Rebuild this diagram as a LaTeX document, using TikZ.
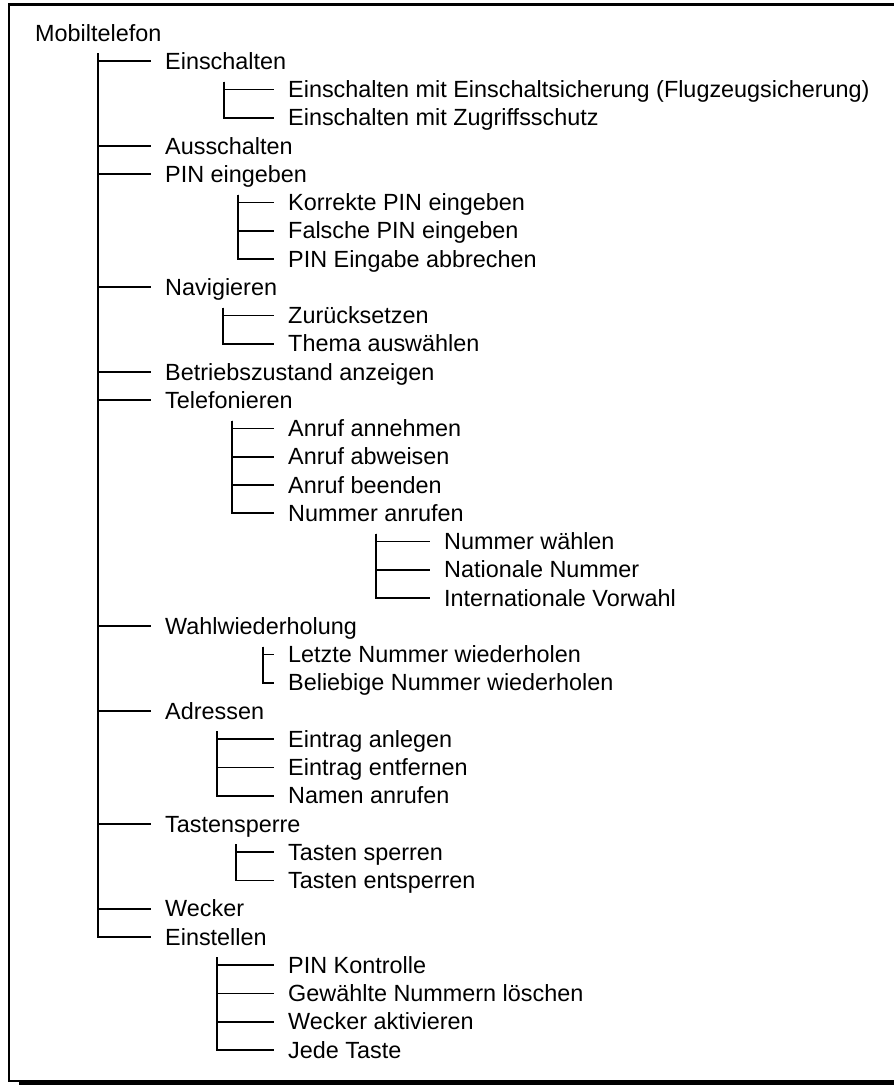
\documentclass[tikz,border=0pt]{standalone}
\usepackage{fontspec}
\setmainfont{Liberation Sans}
\begin{document}
\begin{tikzpicture}[x=1pt,y=-1pt,
  item/.style={anchor=west, inner sep=0pt, text height=17pt, text depth=1pt,
    font=\fontsize{23.4}{28}\selectfont},
  branch/.style={line width=1.8pt, shorten >=14.5pt}]
  % Fix the page size
  \useasboundingbox (0,0) rectangle (894,1085);

  % Draw the frame and its shadow
  \fill (19,1082) rectangle (894,1085);
  \draw[line width=2.5pt] (894,4.7) -- (9,4.7) -- (9,1081) -- (894,1081);

  % Root
  \node[item] (mobil) at (35,33) {Mobiltelefon};

  % First level
  \node[item] (ein)   at (165,61.25)  {Einschalten};
  \node[item] (aus)   at (165,146)    {Ausschalten};
  \node[item] (pin)   at (165,174.25) {PIN eingeben};
  \node[item] (nav)   at (165,287.25) {Navigieren};
  \node[item] (betr)  at (165,372)    {Betriebszustand anzeigen};
  \node[item] (tel)   at (165,400.25) {Telefonieren};
  \node[item] (wahl)  at (165,626.25) {Wahlwiederholung};
  \node[item] (adr)   at (165,711)    {Adressen};
  \node[item] (tast)  at (165,824)    {Tastensperre};
  \node[item] (weck)  at (165,908.75) {Wecker};
  \node[item] (einst) at (165,937)    {Einstellen};

  % Second level
  \node[item] (ein1) at (288,89.5)   {Einschalten mit Einschaltsicherung (Flugzeugsicherung)};
  \node[item] (ein2) at (288,117.75) {Einschalten mit Zugriffsschutz};

  \node[item] (pin1) at (288,202.5)  {Korrekte PIN eingeben};
  \node[item] (pin2) at (288,230.75) {Falsche PIN eingeben};
  \node[item] (pin3) at (288,259)    {PIN Eingabe abbrechen};

  \node[item] (nav1) at (288,315.5)  {Zurücksetzen};
  \node[item] (nav2) at (288,343.75) {Thema auswählen};

  \node[item] (tel1) at (288,428.5)  {Anruf annehmen};
  \node[item] (tel2) at (288,456.75) {Anruf abweisen};
  \node[item] (tel3) at (288,485)    {Anruf beenden};
  \node[item] (tel4) at (288,513.25) {Nummer anrufen};

  \node[item] (wahl1) at (288,654.5)  {Letzte Nummer wiederholen};
  \node[item] (wahl2) at (288,682.75) {Beliebige Nummer wiederholen};

  \node[item] (adr1) at (288,739.25) {Eintrag anlegen};
  \node[item] (adr2) at (288,767.5)  {Eintrag entfernen};
  \node[item] (adr3) at (288,795.75) {Namen anrufen};

  \node[item] (tast1) at (288,852.25) {Tasten sperren};
  \node[item] (tast2) at (288,880.5)  {Tasten entsperren};

  \node[item] (einst1) at (288,965.25) {PIN Kontrolle};
  \node[item] (einst2) at (288,993.5)  {Gewählte Nummern löschen};
  \node[item] (einst3) at (288,1021.75) {Wecker aktivieren};
  \node[item] (einst4) at (288,1050)   {Jede Taste};

  % Third level
  \node[item] (num1) at (444,541.5)  {Nummer wählen};
  \node[item] (num2) at (444,569.75) {Nationale Nummer};
  \node[item] (num3) at (444,598)    {Internationale Vorwahl};

  % Tops of the vertical bars
  \coordinate (b0) at (98,53);
  \coordinate (b1) at (224,81.5);
  \coordinate (b2) at (238,194.5);
  \coordinate (b3) at (223,307.5);
  \coordinate (b4) at (232,420.5);
  \coordinate (b5) at (376,533.5);
  \coordinate (b6) at (263,646.5);
  \coordinate (b7) at (217,731.25);
  \coordinate (b8) at (236,844.25);
  \coordinate (b9) at (217,957.25);

  % Draw the branches
  \foreach \n in {ein,aus,pin,nav,betr,tel,wahl,adr,tast,weck,einst}
    \draw[branch] (b0) |- (\n.west);
  \foreach \n in {ein1,ein2} \draw[branch] (b1) |- (\n.west);
  \foreach \n in {pin1,pin2,pin3} \draw[branch] (b2) |- (\n.west);
  \foreach \n in {nav1,nav2} \draw[branch] (b3) |- (\n.west);
  \foreach \n in {tel1,tel2,tel3,tel4} \draw[branch] (b4) |- (\n.west);
  \foreach \n in {num1,num2,num3} \draw[branch] (b5) |- (\n.west);
  \foreach \n in {wahl1,wahl2} \draw[branch] (b6) |- (\n.west);
  \foreach \n in {adr1,adr2,adr3} \draw[branch] (b7) |- (\n.west);
  \foreach \n in {tast1,tast2} \draw[branch] (b8) |- (\n.west);
  \foreach \n in {einst1,einst2,einst3,einst4} \draw[branch] (b9) |- (\n.west);

\end{tikzpicture}
\end{document}
